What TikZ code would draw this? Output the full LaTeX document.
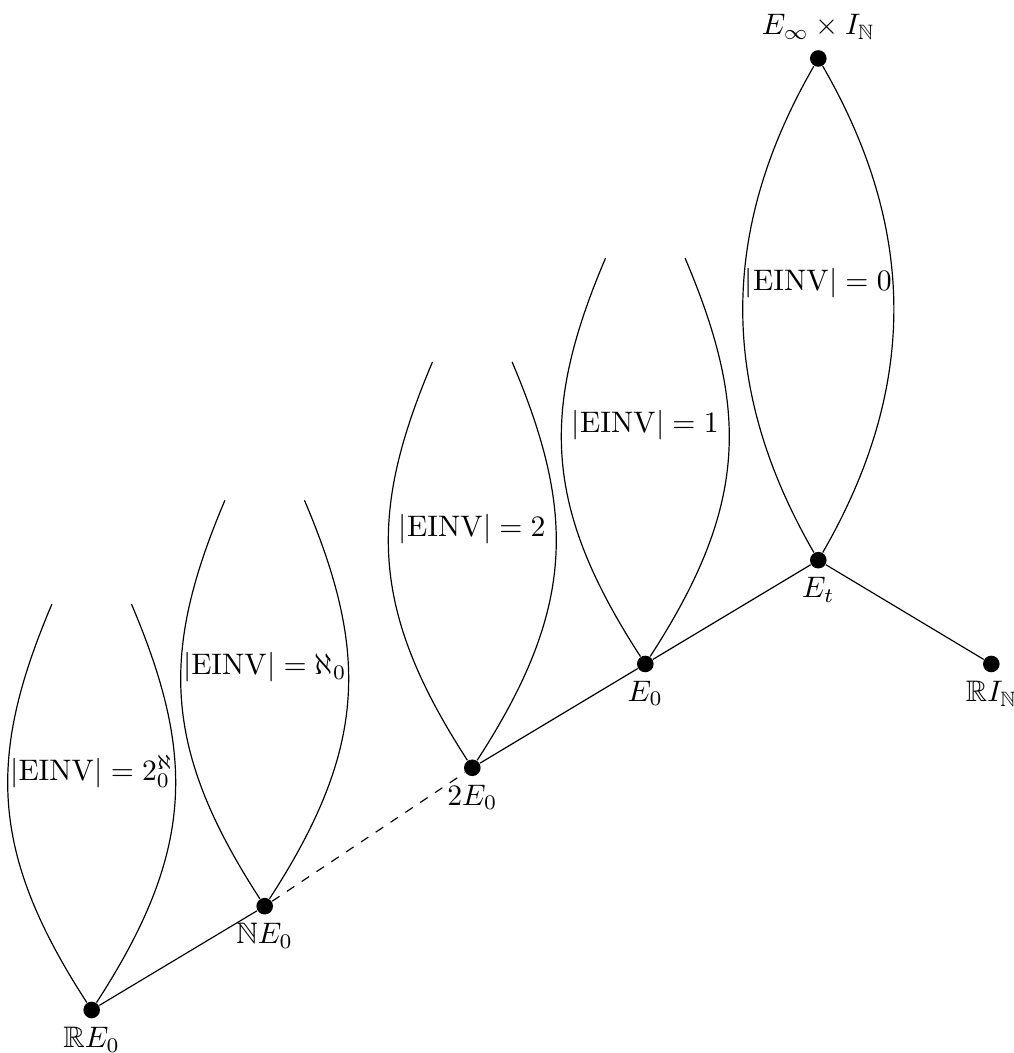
\documentclass[tikz,border=0pt]{standalone}
\usepackage{amssymb}
\begin{document}
\begin{tikzpicture}[x=0.41cm, y=0.41cm, vert/.style = {circle, fill, inner sep=0pt, minimum size=5.6pt}, every label/.style = {inner sep=1pt}, label distance=1.6pt, lensl/.style = {out=123, in=247, out looseness=1.16, in looseness=1.05}, lensr/.style = {out=57, in=293, out looseness=1.16, in looseness=1.05}]
        \useasboundingbox (-2.65,-1.243) rectangle (26.63,29.19);
        \node[vert] (RE) at (0,0) [label=below:$\mathbb{R}E_0$] {};
        \node[vert] (NE) at (5,3) [label=below:$\mathbb{N}E_0$] {};
        \node[vert] (2E) at (11,7) [label=below:$2E_0$] {};
        \node[vert] (E0) at (16,10) [label=below:$E_0$] {};
        \node[vert] (Et) at (21,13) [label=below:$E_t$] {};
        \node[vert] (RI) at (26,10) [label=below:$\mathbb{R}I_\mathbb{N}$] {};
        \node[vert] (Einf) at (21,27.5) [label={[label distance=2.3pt]above:$E_\infty \times I_\mathbb{N}$}] {};
        
        \coordinate (RE l) at (-1.15,11.73);
        \coordinate (RE r) at (1.15,11.73);
        \coordinate (NE l) at (3.85,14.73);
        \coordinate (NE r) at (6.15,14.73);
        \coordinate (2E l) at (9.85,18.73);
        \coordinate (2E r) at (12.15,18.73);
        \coordinate (E0 l) at (14.85,21.73);
        \coordinate (E0 r) at (17.15,21.73);
        
        \node (inv RE) at (0,6.9) {$|\mathrm{EINV}| = 2^\aleph_0$};
        \node (inv NE) at (5,9.9) {$|\mathrm{EINV}| = \aleph_0$};
        \node (inv 2E) at (11,13.9) {$|\mathrm{EINV}| = 2$};
        \node (inv E0) at (16,16.9) {$|\mathrm{EINV}| = 1$};
        \node (inv Et) at (21,21) {$|\mathrm{EINV}| = 0$};
        
        \draw (RE) -- (NE);
        \draw[dashed] (NE) -- (2E);
        \draw (2E) -- (E0);
        \draw (E0) -- (Et);
        \draw (Et) -- (RI);
        
        \draw (RE) to[lensl] (RE l);
        \draw (RE) to[lensr] (RE r);
        \draw (NE) to[lensl] (NE l);
        \draw (NE) to[lensr] (NE r);
        \draw (2E) to[lensl] (2E l);
        \draw (2E) to[lensr] (2E r);
        \draw (E0) to[lensl] (E0 l);
        \draw (E0) to[lensr] (E0 r);
        \draw (Et) to[out=120, in=240] (Einf);
        \draw (Et) to[out=60, in=300] (Einf);
    \end{tikzpicture}
\end{document}
